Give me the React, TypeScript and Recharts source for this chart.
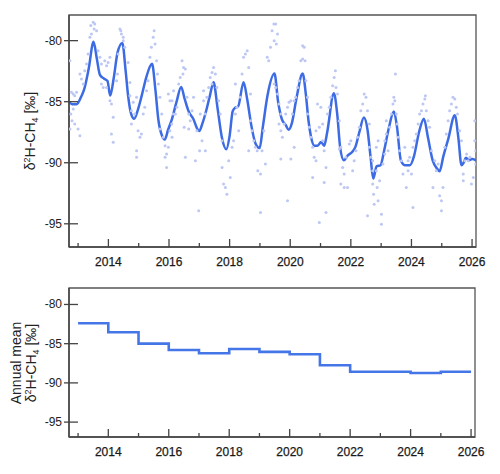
import { ComposedChart, LineChart, Line, Scatter, XAxis, YAxis, ReferenceArea } from "recharts";

// axis ranges and ticks
const X_DOMAIN: [number, number] = [2012.7, 2026.13];
const Y_DOMAIN: [number, number] = [-96.9, -77.9];
const yearTicks = [2013, 2014, 2015, 2016, 2017, 2018, 2019, 2020, 2021, 2022, 2023, 2024, 2025, 2026];
const valueTicks = [-80, -85, -90, -95];

// smoothed fit through the flask samples [year, ‰]
const smoothCurve: [number, number][] = [
  [2012.7, -85.0], [2012.8, -85.2], [2012.95, -85.2], [2013.1, -84.6], [2013.2, -84.0], [2013.35, -82.3],
  [2013.51, -80.1], [2013.62, -81.5], [2013.72, -82.8], [2013.85, -83.1], [2013.97, -83.3], [2014.06, -84.5],
  [2014.18, -83.0], [2014.3, -81.0], [2014.46, -80.2], [2014.57, -82.5], [2014.65, -84.5], [2014.75, -86.0],
  [2014.85, -86.4], [2014.98, -85.6], [2015.1, -84.5], [2015.25, -83.0], [2015.44, -81.9], [2015.55, -84.0],
  [2015.65, -86.5], [2015.77, -87.8], [2015.86, -88.1], [2015.97, -87.3], [2016.1, -86.4], [2016.25, -85.0],
  [2016.4, -83.8], [2016.52, -84.8], [2016.65, -85.8], [2016.8, -86.4], [2016.95, -87.3], [2017.0, -87.4],
  [2017.1, -86.8], [2017.22, -85.8], [2017.35, -84.5], [2017.47, -83.4], [2017.6, -85.5], [2017.75, -88.0],
  [2017.89, -88.9], [2018.0, -87.8], [2018.1, -85.8], [2018.18, -85.5], [2018.28, -85.4], [2018.46, -83.4],
  [2018.58, -84.8], [2018.72, -87.0], [2018.85, -88.4], [2018.99, -88.8], [2019.1, -87.0], [2019.25, -84.5],
  [2019.48, -82.7], [2019.6, -85.0], [2019.72, -86.4], [2019.85, -86.9], [2019.95, -87.3], [2020.05, -86.8],
  [2020.2, -84.8], [2020.41, -82.7], [2020.52, -84.5], [2020.6, -86.5], [2020.68, -87.8], [2020.8, -88.6],
  [2020.9, -88.6], [2021.02, -88.3], [2021.12, -88.6], [2021.22, -87.5], [2021.44, -84.3], [2021.55, -86.0],
  [2021.65, -88.8], [2021.77, -89.8], [2021.9, -89.4], [2022.05, -89.1], [2022.15, -88.7], [2022.28, -87.5],
  [2022.43, -86.3], [2022.55, -87.3], [2022.65, -89.5], [2022.74, -91.3], [2022.85, -90.3], [2022.98, -90.2],
  [2023.1, -89.0], [2023.25, -87.2], [2023.42, -85.8], [2023.52, -87.0], [2023.65, -89.8], [2023.78, -90.2],
  [2023.95, -90.2], [2024.08, -89.5], [2024.25, -87.5], [2024.41, -86.4], [2024.55, -88.0], [2024.7, -89.8],
  [2024.85, -90.5], [2024.93, -90.7], [2025.05, -89.5], [2025.22, -88.0], [2025.43, -86.1], [2025.55, -88.0],
  [2025.65, -90.2], [2025.72, -90.0], [2025.8, -89.6], [2025.9, -89.8], [2026.0, -89.7], [2026.13, -89.8],
];

// individual samples [year, ‰]
const samples2013: [number, number][] = [
  [2012.73, -81.64], [2012.78, -84.23], [2012.84, -84.37], [2012.89, -84.51], [2012.95, -84.23], [2012.76, -86.01],
  [2012.8, -86.56], [2012.73, -87.24], [2012.89, -86.83], [2013.0, -87.24], [2013.06, -87.79], [2012.84, -85.6],
  [2013.06, -82.73], [2013.11, -83.14], [2013.17, -83.55], [2013.22, -82.46], [2013.28, -81.91], [2013.33, -81.09],
  [2013.39, -79.73], [2013.44, -79.45], [2013.5, -78.5], [2013.55, -78.63], [2013.42, -78.77], [2013.61, -79.18],
  [2013.53, -79.04], [2013.66, -80.82], [2013.72, -81.37], [2013.77, -81.91], [2013.88, -81.64], [2013.94, -82.05],
  [2013.99, -81.78], [2014.05, -81.37], [2013.77, -83.55], [2013.83, -83.83], [2013.94, -83.83], [2014.05, -84.92],
  [2014.1, -85.19], [2014.16, -86.28], [2014.1, -87.65], [2014.16, -88.33], [2014.27, -83.28], [2014.3, -82.73],
  [2014.32, -81.09], [2014.38, -79.04], [2014.41, -79.18], [2014.43, -79.45], [2014.49, -80.0], [2014.54, -80.55],
  [2014.49, -79.73], [2014.65, -81.78], [2014.71, -83.42], [2014.71, -84.51], [2014.76, -85.74], [2014.82, -85.05],
  [2014.76, -86.83], [2014.87, -86.01], [2014.93, -84.64], [2014.98, -87.38], [2015.04, -87.92], [2014.93, -89.02],
  [2014.93, -89.56], [2015.09, -87.65], [2015.15, -86.01], [2015.2, -85.46], [2015.26, -84.1], [2015.31, -83.28],
  [2015.37, -81.37], [2015.42, -80.55], [2015.48, -79.73], [2015.51, -79.18], [2015.54, -80.27], [2015.59, -81.64],
  [2015.62, -82.73], [2015.65, -83.55], [2015.7, -84.64], [2015.7, -87.24], [2015.76, -86.01], [2015.81, -87.92],
  [2015.87, -88.61], [2015.92, -89.29], [2015.87, -89.56], [2015.92, -90.38], [2015.98, -88.74], [2016.03, -87.38],
  [2016.09, -86.83], [2016.14, -86.01], [2016.03, -84.92], [2015.98, -84.37],
];

const samples2016: [number, number][] = [
  [2016.1, -84.92], [2016.15, -84.1], [2016.1, -87.92], [2016.21, -86.01], [2016.26, -85.46], [2016.32, -83.55],
  [2016.37, -83.01], [2016.43, -81.64], [2016.48, -82.19], [2016.54, -82.32], [2016.46, -82.73], [2016.54, -89.56],
  [2016.5, -87.1], [2016.59, -84.64], [2016.65, -86.01], [2016.7, -86.56], [2016.65, -87.24], [2016.76, -85.74],
  [2016.81, -84.64], [2016.87, -89.84], [2016.92, -87.38], [2016.98, -93.93], [2017.01, -89.02], [2017.09, -88.2],
  [2017.03, -86.01], [2017.14, -84.92], [2017.14, -84.1], [2017.2, -86.01], [2017.2, -89.02], [2017.25, -84.64],
  [2017.31, -83.83], [2017.36, -83.01], [2017.42, -82.6], [2017.47, -82.19], [2017.53, -82.73], [2017.42, -83.55],
  [2017.58, -83.83], [2017.64, -84.92], [2017.69, -86.01], [2017.75, -88.2], [2017.75, -90.38], [2017.8, -91.75],
  [2017.86, -92.02], [2017.91, -92.57], [2017.97, -89.84], [2018.02, -91.2], [2018.08, -88.74], [2018.13, -88.2],
  [2018.19, -86.01], [2018.19, -83.55], [2018.24, -85.46], [2018.3, -87.38], [2018.35, -84.64], [2018.41, -82.73],
  [2018.46, -81.37], [2018.52, -81.09], [2018.58, -80.82], [2018.63, -82.19], [2018.69, -84.37], [2018.69, -86.56],
  [2018.74, -87.38], [2018.63, -89.02], [2018.8, -88.2], [2018.85, -88.74], [2018.91, -89.02], [2018.93, -90.66],
  [2019.02, -90.93], [2019.02, -94.07], [2019.07, -89.02], [2019.13, -87.38], [2019.18, -90.11], [2019.24, -81.37],
  [2019.29, -81.64], [2019.35, -80.55], [2019.4, -79.18], [2019.46, -78.63],
];

const samples2019: [number, number][] = [
  [2019.47, -80.0], [2019.52, -78.63], [2019.54, -80.27], [2019.58, -79.45], [2019.47, -83.55], [2019.52, -83.83],
  [2019.58, -84.37], [2019.63, -85.19], [2019.69, -86.01], [2019.63, -86.83], [2019.69, -87.38], [2019.69, -89.7],
  [2019.74, -87.92], [2019.8, -86.83], [2019.85, -86.01], [2019.91, -85.46], [2019.91, -93.11], [2019.96, -85.05],
  [2020.02, -84.92], [2020.02, -89.7], [2020.07, -86.01], [2020.13, -84.92], [2020.13, -88.74], [2020.18, -84.64],
  [2020.24, -83.83], [2020.29, -83.28], [2020.35, -81.64], [2020.41, -80.41], [2020.46, -80.55], [2020.41, -81.5],
  [2020.49, -81.64], [2020.52, -83.28], [2020.57, -84.64], [2020.57, -86.01], [2020.63, -87.1], [2020.68, -87.92],
  [2020.74, -88.74], [2020.74, -91.2], [2020.79, -89.56], [2020.85, -89.84], [2020.85, -87.38], [2020.9, -85.19],
  [2020.96, -87.1], [2020.96, -94.89], [2021.01, -85.46], [2021.07, -86.83], [2021.07, -88.2], [2021.12, -89.02],
  [2021.12, -91.61], [2021.18, -90.38], [2021.18, -94.07], [2021.23, -86.01], [2021.29, -85.46], [2021.34, -84.64],
  [2021.4, -83.69], [2021.45, -83.01], [2021.49, -82.46], [2021.51, -83.83], [2021.56, -84.37], [2021.62, -86.56],
  [2021.62, -88.88], [2021.67, -88.74], [2021.67, -91.75], [2021.73, -90.38], [2021.78, -90.93], [2021.78, -92.02],
  [2021.84, -89.56], [2021.89, -92.02], [2021.95, -88.47], [2022.0, -88.2], [2022.06, -90.66], [2022.11, -89.84],
  [2022.17, -89.02], [2022.22, -87.92], [2022.28, -87.1], [2022.33, -85.74], [2022.39, -85.19], [2022.44, -84.37],
  [2022.5, -84.64], [2022.55, -85.74], [2022.61, -86.83], [2022.61, -88.74], [2022.66, -89.56], [2022.72, -90.66],
  [2022.72, -91.75], [2022.75, -92.57], [2022.77, -93.39], [2022.55, -94.34], [2022.72, -89.84],
];

const samples2023: [number, number][] = [
  [2022.84, -88.74], [2022.9, -88.2], [2022.84, -90.66], [2022.87, -92.02], [2022.9, -93.11], [2022.95, -91.48],
  [2023.01, -94.21], [2023.01, -95.03], [2023.06, -90.11], [2023.12, -89.29], [2023.12, -88.2], [2023.17, -86.56],
  [2023.17, -87.65], [2023.23, -89.02], [2023.28, -87.1], [2023.34, -86.01], [2023.39, -85.19], [2023.42, -84.64],
  [2023.47, -82.73], [2023.45, -84.92], [2023.5, -86.01], [2023.53, -86.83], [2023.56, -87.92], [2023.61, -89.02],
  [2023.67, -89.84], [2023.72, -90.93], [2023.78, -88.74], [2023.83, -92.02], [2023.89, -89.84], [2023.89, -90.66],
  [2023.94, -89.56], [2024.0, -90.93], [2024.05, -93.66], [2024.05, -88.74], [2024.11, -88.2], [2024.16, -87.65],
  [2024.22, -86.83], [2024.27, -86.01], [2024.33, -85.74], [2024.38, -85.19], [2024.44, -84.78], [2024.46, -84.51],
  [2024.49, -85.74], [2024.55, -86.56], [2024.6, -87.1], [2024.66, -89.02], [2024.71, -92.02], [2024.77, -89.84],
  [2024.82, -90.66], [2024.88, -90.11], [2024.93, -92.7], [2024.99, -93.93], [2024.99, -93.11], [2025.04, -92.02],
  [2025.1, -88.74], [2025.15, -87.65], [2025.21, -86.56], [2025.26, -85.74], [2025.32, -85.19], [2025.37, -84.64],
  [2025.43, -84.78], [2025.48, -85.46], [2025.52, -86.01], [2025.59, -87.38], [2025.65, -88.2], [2025.71, -90.93],
  [2025.71, -91.48], [2025.76, -89.84], [2025.82, -89.29], [2025.87, -89.84], [2025.93, -89.56], [2025.98, -91.75],
  [2026.04, -91.2], [2026.09, -88.2], [2026.09, -86.56], [2026.12, -89.02], [2026.12, -90.11],
];

// annual means (last year repeated so the final step reaches 2026)
const meanYears = [2013, 2014, 2015, 2016, 2017, 2018, 2019, 2020, 2021, 2022, 2023, 2024, 2025, 2026];
const meanValues = [-82.39, -83.54, -84.99, -85.8, -86.22, -85.67, -86.05, -86.35, -87.76, -88.57, -88.57, -88.74, -88.57, -88.57];

const toRows = (pairs: [number, number][]) => pairs.map(([year, value]) => ({ year, value }));
const curveData = toRows(smoothCurve);
const sampleData = toRows([...samples2013, ...samples2016, ...samples2019, ...samples2023]);
const meanData = meanYears.map((year, i) => ({ year, value: meanValues[i] }));

const FONT = "'Liberation Sans', Arial, sans-serif";
const AXIS = "#444";

function YearTick(props: any) {
  const { x, y, payload } = props;
  const major = payload.value % 2 === 0;
  return (
    <g>
      <line x1={x} x2={x} y1={y} y2={y - (major ? 8 : 4)} stroke={AXIS} strokeWidth={1.3} />
      {major && (
        <text x={x} y={y + 19} textAnchor="middle" fontSize={12} fontFamily={FONT} fill="#1a1a1a" stroke="#1a1a1a" strokeWidth={0.25}>
          {payload.value}
        </text>
      )}
    </g>
  );
}

function ValueTick(props: any) {
  const { x, y, payload } = props;
  return (
    <g>
      <line x1={x - 5} x2={x + 9} y1={y} y2={y} stroke={AXIS} strokeWidth={1.3} />
      <text x={x - 7} y={y + 4} textAnchor="end" fontSize={12} fontFamily={FONT} fill="#222">
        {payload.value}
      </text>
    </g>
  );
}

function Dot(props: any) {
  return <circle cx={props.cx} cy={props.cy} r={1.5} fill="#bcc7f4" />;
}

function DeltaLabel({ x, y }: { x: number; y: number }) {
  return (
    <text x={x} y={y} transform={`rotate(-90, ${x}, ${y})`} textAnchor="middle" fontSize={14} fontFamily={FONT} fill="#222">
      δ<tspan dy={-5} fontSize={9}>2</tspan>
      <tspan dy={5}>H-CH</tspan>
      <tspan dy={3} fontSize={9}>4</tspan>
      <tspan dy={-3}> [‰]</tspan>
    </text>
  );
}

export default function App() {
  const axisLine = { stroke: AXIS, strokeWidth: 1.5 };
  return (
    <div style={{ position: "absolute", left: 0, top: 0, width: 500, height: 474, background: "#fff", fontFamily: FONT }}>
      <div style={{ position: "absolute", left: 0, top: 0 }}>
        <ComposedChart width={500} height={280} margin={{ top: 15, right: 24, bottom: 0, left: 0 }}>
          <XAxis
            type="number"
            dataKey="year"
            domain={X_DOMAIN}
            ticks={yearTicks}
            interval={0}
            allowDataOverflow
            height={33}
            tickSize={0}
            tickMargin={0}
            axisLine={axisLine}
            tickLine={false}
            tick={<YearTick />}
          />
          <YAxis
            type="number"
            dataKey="value"
            domain={Y_DOMAIN}
            ticks={valueTicks}
            interval={0}
            allowDataOverflow
            width={69}
            tickSize={0}
            tickMargin={0}
            axisLine={axisLine}
            tickLine={false}
            tick={<ValueTick />}
          />
          <ReferenceArea x1={X_DOMAIN[0]} x2={X_DOMAIN[1]} y1={Y_DOMAIN[0]} y2={Y_DOMAIN[1]} fill="none" stroke="#555" strokeWidth={1.3} />
          <Scatter data={sampleData} dataKey="value" shape={<Dot />} isAnimationActive={false} />
          <Line data={curveData} dataKey="value" type="monotone" stroke="#3c6be3" strokeWidth={2.5} dot={false} isAnimationActive={false} />
        </ComposedChart>
      </div>
      <div style={{ position: "absolute", left: 0, top: 280 }}>
        <LineChart width={500} height={194} data={meanData} margin={{ top: 8, right: 25, bottom: 0, left: 0 }}>
          <XAxis
            type="number"
            dataKey="year"
            domain={X_DOMAIN}
            ticks={yearTicks}
            interval={0}
            allowDataOverflow
            height={37}
            tickSize={0}
            tickMargin={0}
            axisLine={axisLine}
            tickLine={false}
            tick={<YearTick />}
          />
          <YAxis
            type="number"
            domain={Y_DOMAIN}
            ticks={valueTicks}
            interval={0}
            allowDataOverflow
            width={69}
            tickSize={0}
            tickMargin={0}
            axisLine={axisLine}
            tickLine={false}
            tick={<ValueTick />}
          />
          <ReferenceArea x1={X_DOMAIN[0]} x2={X_DOMAIN[1]} y1={Y_DOMAIN[0]} y2={Y_DOMAIN[1]} fill="none" stroke="#555" strokeWidth={1.3} />
          <Line dataKey="value" type="stepAfter" stroke="#4576e8" strokeWidth={2.6} dot={false} isAnimationActive={false} />
        </LineChart>
      </div>
      <svg width={500} height={474} style={{ position: "absolute", left: 0, top: 0, pointerEvents: "none" }}>
        <DeltaLabel x={35} y={131} />
        <text x={21} y={363} transform="rotate(-90, 21, 363)" textAnchor="middle" fontSize={14} fontFamily={FONT} fill="#222">
          Annual mean
        </text>
        <DeltaLabel x={36} y={363} />
      </svg>
    </div>
  );
}
